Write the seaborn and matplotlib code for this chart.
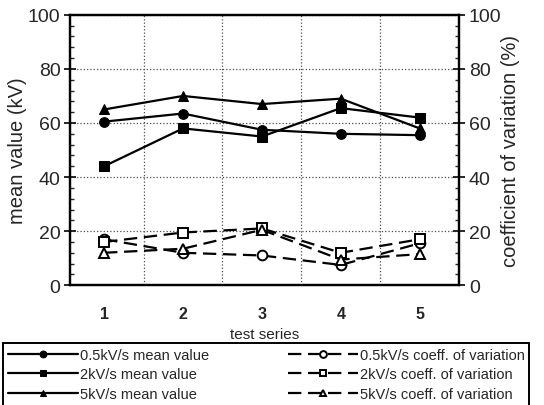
import numpy as np
import pandas as pd
import matplotlib
matplotlib.use("Agg")
import matplotlib.pyplot as plt
import seaborn as sns
from matplotlib.ticker import MultipleLocator, FixedLocator

series = [1, 2, 3, 4, 5]

mean_05 = [60.5, 63.5, 57.5, 56.0, 55.5]
mean_2 = [44.0, 58.0, 55.0, 65.5, 62.0]
mean_5 = [65.0, 70.0, 67.0, 69.0, 58.0]

cov_05 = [17.0, 12.0, 11.0, 7.5, 15.5]
cov_2 = [16.0, 19.5, 21.0, 12.0, 17.0]
cov_5 = [12.0, 13.5, 20.5, 9.5, 11.5]

sns.set_style("white")
plt.rcParams['font.family'] = ['Liberation Sans', 'DejaVu Sans']

fig = plt.figure(figsize=(5.44, 4.06), dpi=100)
ax = fig.add_axes([0.129, 0.295, 0.715, 0.666])
ax2 = ax.twinx()

mean_df = pd.DataFrame({'series': series, 'm05': mean_05, 'm2': mean_2, 'm5': mean_5})
cov_df = pd.DataFrame({'series': series, 'c05': cov_05, 'c2': cov_2, 'c5': cov_5})

solid = [('m05', 'o', '0.5kV/s mean value'),
         ('m2', 's', '2kV/s mean value'),
         ('m5', '^', '5kV/s mean value')]
dashed = [('c05', 'o', '0.5kV/s coeff. of variation'),
          ('c2', 's', '2kV/s coeff. of variation'),
          ('c5', '^', '5kV/s coeff. of variation')]

for col, mk, lab in solid:
    sns.lineplot(data=mean_df, x='series', y=col, ax=ax, color='black', lw=1.6,
                 marker=mk, markersize=7, markerfacecolor='black',
                 markeredgecolor='black', label=lab, legend=False)
for col, mk, lab in dashed:
    sns.lineplot(data=cov_df, x='series', y=col, ax=ax2, color='black', lw=1.6,
                 marker=mk, markersize=7, markerfacecolor='white',
                 markeredgecolor='black', markeredgewidth=1.4, label=lab,
                 linestyle=(0, (6, 3)), legend=False)
handles = ax.get_lines() + ax2.get_lines()

for a in (ax, ax2):
    a.set_ylim(0, 100)
    a.set_xlim(0.57, 5.5)
    a.yaxis.set_major_locator(MultipleLocator(20))
    a.yaxis.set_minor_locator(MultipleLocator(4))
    for s in a.spines.values():
        s.set_linewidth(1.6)
        s.set_color('black')

ax.xaxis.set_major_locator(FixedLocator(series))
ax.xaxis.set_minor_locator(FixedLocator([1.5, 2.5, 3.5, 4.5]))
ax.tick_params(axis='x', which='major', length=0, labelsize=11.5, pad=15)
ax.tick_params(axis='x', which='minor', length=6, width=1.4, direction='out')
for lbl in ax.get_xticklabels():
    lbl.set_fontweight('bold')

ax.tick_params(axis='y', which='major', length=8, width=1.4, direction='inout',
               labelsize=14, left=True, pad=3)
ax.tick_params(axis='y', which='minor', length=3, width=1, direction='in', left=True)
ax2.tick_params(axis='y', which='major', length=8, width=1.4, direction='inout',
                labelsize=14, right=True, pad=3)
ax2.tick_params(axis='y', which='minor', length=3, width=1, direction='in', right=True)

ax.grid(True, which='major', axis='y', color='0.3', linestyle=':', lw=0.9)
ax.grid(True, which='minor', axis='x', color='0.3', linestyle=':', lw=0.9)

ax.set_xlabel('test series', fontsize=11, labelpad=4)
ax.set_ylabel('mean value (kV)', fontsize=14.5)
ax2.set_ylabel('coefficient of variation (%)', fontsize=14.5)
ax.yaxis.set_label_coords(-0.112, 0.5)
ax2.yaxis.set_label_coords(1.108, 0.5)

labels = [h.get_label() for h in handles]
leg = fig.legend(handles, labels, ncol=2, loc='upper left',
                 bbox_to_anchor=(0.006, 0.152),
                 fontsize=10.5, handlelength=4.8, frameon=True, fancybox=False,
                 edgecolor='black', framealpha=1, borderaxespad=0,
                 borderpad=0.3, labelspacing=0.4, handletextpad=0.15,
                 columnspacing=5.4, markerscale=0.7)
leg.get_frame().set_linewidth(1.4)

fig.savefig('out.png', dpi=100)
